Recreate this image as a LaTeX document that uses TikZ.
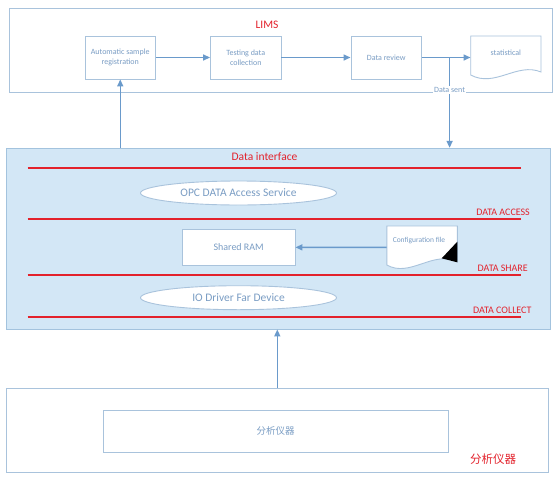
\documentclass[tikz,border=0pt]{standalone}
\usepackage{fontspec}
\setmainfont{Carlito}
\newfontfamily\cjk{Noto Sans CJK SC}
\usetikzlibrary{shapes.geometric,arrows.meta,calc}
\definecolor{bord}{HTML}{A9C3DC}
\definecolor{txt}{HTML}{7A9DC4}
\definecolor{arr}{HTML}{6A9ACB}
\definecolor{ifill}{HTML}{D3E7F6}
\definecolor{ibord}{HTML}{A3C3DE}
\definecolor{lred}{HTML}{E3222C}
\tikzset{
  outerbox/.style={draw=bord, line width=0.9pt, fill=white, inner sep=0pt},
  procbox/.style={draw=bord, line width=0.9pt, fill=white, inner sep=1pt, align=center,
    text=txt, font=\fontsize{8}{9.5}\selectfont},
  ovalbox/.style={ellipse, draw=bord, line width=0.9pt, fill=white, inner sep=0pt,
    minimum width=196pt, minimum height=24pt, text=txt, font=\fontsize{11.5}{13}\selectfont},
  docnode/.style={inner sep=0pt, text=txt, font=\fontsize{8}{9.5}\selectfont},
  docshape/.style={draw=bord, line width=0.9pt, fill=white},
  flow/.style={draw=arr, line width=1.5pt, -{Triangle[length=7pt,width=6pt]}},
  redtitle/.style={text=lred, font=\fontsize{11.5}{13}\selectfont, inner sep=0pt},
  redlab/.style={text=lred, font=\fontsize{10}{12}\selectfont, inner sep=0pt, anchor=east},
  redline/.style={draw=lred, line width=1.6pt},
  smalllab/.style={text=txt, font=\fontsize{8}{9.5}\selectfont, fill=white, inner sep=1pt}
}
\begin{document}
\begin{tikzpicture}[x=1pt,y=-1pt]
\useasboundingbox (0,0) rectangle (554,477);
\fill[white] (0,0) rectangle (554,477);

% ---------- LIMS ----------
\node[outerbox, minimum width=543pt, minimum height=84pt] (lims) at (280.5,50) {};
\node[redtitle] (limst) at (267,25) {LIMS};
\node[procbox, minimum width=70.5pt, minimum height=43pt] (b1) at (120.25,57.5) {Automatic sample\\registration};
\node[procbox, minimum width=70.5pt, minimum height=43pt] (b2) at (245.75,57.5) {Testing data\\collection};
\node[procbox, minimum width=70.5pt, minimum height=43pt] (b3) at (386.2,57.5) {Data review};
\node[docnode, minimum width=70.3pt, minimum height=43pt] (stat) at (505.85,57.5) {};
\draw[docshape] (470.7,36) -- (541,36) -- (541,72)
  .. controls (517,62) and (495,88) .. (470.7,75) -- cycle;
\node[docnode] (statt) at (505.85,53) {statistical};

\draw[flow] (b1.east) -- (b2.west);
\draw[flow] (b2.east) -- (b3.west);
\draw[flow] (b3.east) -- (stat.west);

% ---------- Data interface ----------
\node[draw=ibord, line width=0.9pt, fill=ifill, inner sep=0pt,
      minimum width=543.7pt, minimum height=180.7pt] (iface) at (278.15,238.65) {};
\node[redtitle] (ifacet) at (264.5,156.7) {Data interface};

\coordinate (ds) at (449.6,57.5);
\draw[flow] (ds) -- (ds |- iface.north)
  node[smalllab, pos=0.36] (dsl) {Data sent};
\draw[flow] (b1.south |- iface.north) -- (b1.south);

\draw[redline] (27.5,168) -- (521,168);
\draw[redline] (27.5,219) -- (521,219);
\draw[redline] (27.5,275) -- (521,275);
\draw[redline] (27.5,317) -- (521,317);

\node[redlab] (la) at (530,212) {DATA ACCESS};
\node[redlab] (ls) at (528,268) {DATA SHARE};
\node[redlab] (lc) at (531.7,310.5) {DATA COLLECT};

\node[ovalbox] (opc) at (238.5,193) {OPC DATA Access Service};
\node[ovalbox] (io) at (238.5,297.7) {IO Driver Far Device};

\node[procbox, minimum width=112.7pt, minimum height=36.7pt,
      font=\fontsize{10}{12}\selectfont] (ram) at (238.65,247.35) {Shared RAM};

\node[docnode, minimum width=70.2pt, minimum height=42.6pt] (cfg) at (421.9,247.3) {};
\draw[docshape] (386.8,226) -- (457.3,226) -- (457.3,261.7)
  .. controls (433,250) and (410,278) .. (386.8,265) -- cycle;
\fill[black] (457.3,241.7) .. controls (450,250) .. (441.7,258.3) -- (457.3,262.3) -- cycle;
\node[docnode, font=\fontsize{7.5}{9}\selectfont] (cfgt) at (419,241) {Configuration file};

\draw[flow] (cfg.west) -- (ram.east);

% ---------- Instruments ----------
\node[outerbox, minimum width=542pt, minimum height=84pt] (instr) at (277.3,430) {};
\node[procbox, minimum width=345pt, minimum height=42pt,
      font=\cjk\fontsize{9.5}{11}\selectfont] (inner) at (275.5,431) {分析仪器};
\node[redtitle, font=\cjk\fontsize{11.5}{13}\selectfont] (instrt) at (493,459) {分析仪器};

\draw[flow] (instr.north) -- (instr.north |- iface.south);
\end{tikzpicture}
\end{document}
